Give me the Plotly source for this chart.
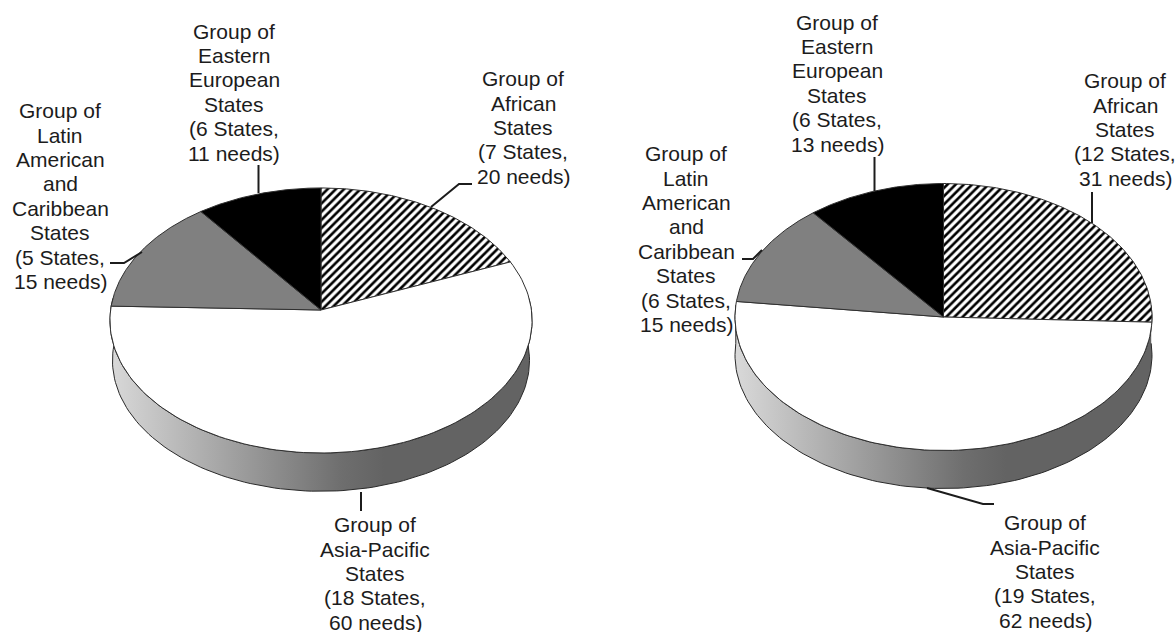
import numpy as np
import plotly.graph_objects as go

# slice order: clockwise from 12 o'clock
groups = [['Group of', 'African', 'States'], ['Group of', 'Asia-Pacific', 'States'],
          ['Group of', 'Latin', 'American', 'and', 'Caribbean', 'States'],
          ['Group of', 'Eastern', 'European', 'States']]
states_left = [7, 18, 5, 6]
needs_left = [20, 60, 15, 11]
states_right = [12, 19, 6, 6]
needs_right = [31, 62, 15, 13]

SLICE_STYLES = [
    dict(fillpattern=dict(shape='/', size=5.8, solidity=0.45, fgcolor='black', bgcolor='white', fillmode='replace')),
    dict(fillcolor='white'),
    dict(fillcolor='#808080'),
    dict(fillcolor='black'),
]
SIDE_SCALE = [[0, '#d9d9d9'], [0.55, '#6e6e6e'], [0.65, '#636363'], [1, '#636363']]
FONT = dict(family='Liberation Sans, Arial, sans-serif', size=21, color='#1c1c1c')
LINE_STEP = 24.4

# pie geometry in pixels: apex, radii, perspective, thickness, base taper
left_pie = dict(cx=321, cy=310, rx=210.4, ry=131.7, k=0.079, depth=40, taper=0.988)
right_pie = dict(cx=943.5, cy=317, rx=208.5, ry=133.5, k=0.0, depth=38, taper=1.0)

# label centres, same order as groups
left_labels = [(523, 127.5), (375, 573.5), (60, 196), (234, 92)]
right_labels = [(1125, 129.5), (1045, 571.5), (686, 239), (837, 83)]

left_leaders = ['M472,184 L459,184 L431,207', 'M361,492 L361,511',
                'M110,263 L124,263 L142,252', 'M258.5,165 L258.5,193']
right_leaders = ['M1092,192 L1092,223', 'M927,488 L983,504 L994,504',
                 'M742,259 L753,259 L762,250', 'M874.5,157 L874.5,191']


def rim(pie, start, end, n=120, scale=1.0, drop=0):
    # clock angles in degrees -> points of the tilted circle
    t = np.radians(np.linspace(start, end, n))
    u, v = np.sin(t), np.cos(t)
    d = 1 + pie['k'] * v
    return pie['cx'] + scale * pie['rx'] * u / d, pie['cy'] + scale * pie['ry'] * v * -1 / d + drop


def add_pie(fig, pie, needs):
    # side wall first, the top slices cover its upper part
    x1, y1 = rim(pie, 85, 275)
    x2, y2 = rim(pie, 275, 85, scale=pie['taper'], drop=pie['depth'])
    fig.add_trace(go.Scatter(x=np.r_[x1, x2], y=np.r_[y1, y2], mode='lines', fill='toself',
                             line=dict(color='#2a2a2a', width=1), hoverinfo='skip',
                             fillgradient=dict(type='horizontal', colorscale=SIDE_SCALE)))
    ends = np.cumsum(needs) / sum(needs) * 360
    starts = np.r_[0, ends[:-1]]
    for a, b, style in zip(starts, ends, SLICE_STYLES):
        x, y = rim(pie, a, b)
        fig.add_trace(go.Scatter(x=np.r_[pie['cx'], x, pie['cx']], y=np.r_[pie['cy'], y, pie['cy']],
                                 mode='lines', fill='toself', hoverinfo='skip',
                                 line=dict(color='#303030', width=1), **style))


def add_labels(fig, positions, states, needs, leaders):
    for (x, y), g, s, n in zip(positions, groups, states, needs):
        # one annotation per line, plotly's own line spacing is too wide here
        lines = g + [f'({s} States,', f'{n} needs)']
        for i, line in enumerate(lines):
            fig.add_annotation(x=x, y=y + (i - (len(lines) - 1) / 2) * LINE_STEP, text=line, showarrow=False,
                               xanchor='center', yanchor='middle', font=FONT)
    for path in leaders:
        fig.add_shape(type='path', path=path, line=dict(color='#1c1c1c', width=2))


fig = go.Figure()
add_pie(fig, left_pie, needs_left)
add_pie(fig, right_pie, needs_right)
add_labels(fig, left_labels, states_left, needs_left, left_leaders)
add_labels(fig, right_labels, states_right, needs_right, right_leaders)

fig.update_xaxes(range=[0, 1176], visible=False)
fig.update_yaxes(range=[632, 0], visible=False)
fig.update_layout(width=1176, height=632, margin=dict(t=0, l=0, r=0, b=0), showlegend=False,
                  paper_bgcolor='white', plot_bgcolor='white')

fig.write_html("out.html", post_script="document.body.style.margin = '0';",
               config=dict(displayModeBar=False))
